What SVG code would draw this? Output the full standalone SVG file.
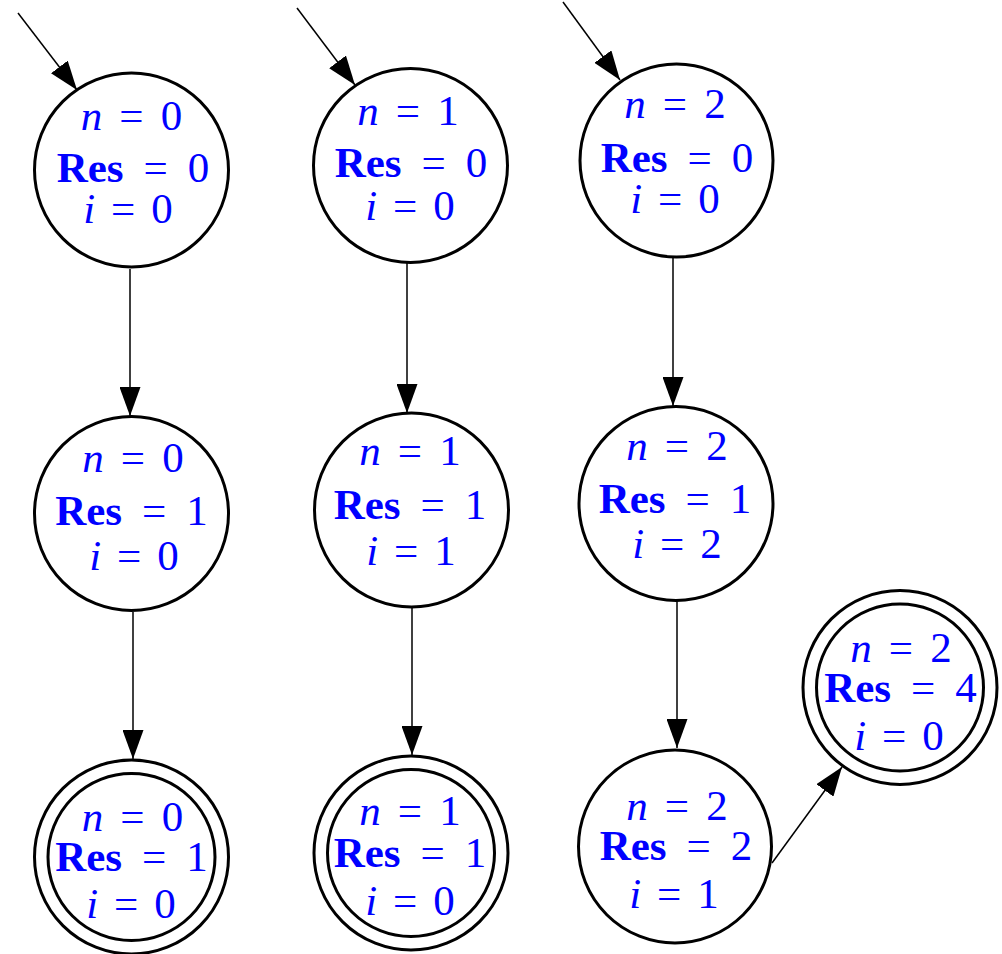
<svg xmlns="http://www.w3.org/2000/svg" width="1002" height="954" viewBox="0 0 1002 954">
<style>
.c{fill:none;stroke:#000;stroke-width:3}
.e{fill:none;stroke:#000;stroke-width:1.5}
text{font-family:"Liberation Serif","DejaVu Serif",serif;font-size:43px;fill:#0000ff;text-anchor:middle}
.v{font-style:italic}
.b{font-weight:bold}
</style>
<defs>
<marker id="ah" viewBox="0 0 29 21" refX="29" refY="10.5" markerWidth="29" markerHeight="21" markerUnits="userSpaceOnUse" orient="auto">
<path d="M0,0 L29,10.5 L0,21 z" fill="#000"/>
</marker>
</defs>
<rect width="1002" height="954" fill="#fff"/>
<g id="connectors">
<line class="e" x1="18" y1="13" x2="77" y2="90" marker-end="url(#ah)"/>
<line class="e" x1="297" y1="8" x2="355" y2="85" marker-end="url(#ah)"/>
<line class="e" x1="563" y1="2" x2="620" y2="80" marker-end="url(#ah)"/>
<line class="e" x1="130" y1="269" x2="130" y2="416" marker-end="url(#ah)"/>
<line class="e" x1="407" y1="263" x2="407" y2="413" marker-end="url(#ah)"/>
<line class="e" x1="673" y1="258" x2="673" y2="406" marker-end="url(#ah)"/>
<line class="e" x1="133" y1="612" x2="133" y2="759" marker-end="url(#ah)"/>
<line class="e" x1="412" y1="607" x2="412" y2="755" marker-end="url(#ah)"/>
<line class="e" x1="677" y1="601" x2="677" y2="748" marker-end="url(#ah)"/>
<line class="e" x1="772" y1="863" x2="842" y2="767" marker-end="url(#ah)"/>
</g>
<g id="n1">
<circle class="c" cx="131.5" cy="170" r="97"/>
<text x="131.5" y="130"><tspan class="v">n</tspan><tspan dx="17">=</tspan><tspan dx="17">0</tspan></text>
<text x="133" y="182"><tspan class="b">Res</tspan><tspan dx="20">=</tspan><tspan dx="20">0</tspan></text>
<text x="128" y="223"><tspan class="v">i</tspan><tspan dx="16">=</tspan><tspan dx="16">0</tspan></text>
</g>
<g id="n2">
<circle class="c" cx="131.5" cy="513.5" r="97"/>
<text x="133" y="472"><tspan class="v">n</tspan><tspan dx="17">=</tspan><tspan dx="17">0</tspan></text>
<text x="131.5" y="525"><tspan class="b">Res</tspan><tspan dx="20">=</tspan><tspan dx="20">1</tspan></text>
<text x="134" y="570"><tspan class="v">i</tspan><tspan dx="16">=</tspan><tspan dx="16">0</tspan></text>
</g>
<g id="n3">
<circle class="c" cx="131.5" cy="857" r="97"/>
<circle class="c" cx="131.5" cy="857" r="83.5"/>
<text x="132.5" y="831"><tspan class="v">n</tspan><tspan dx="17">=</tspan><tspan dx="17">0</tspan></text>
<text x="131.5" y="871"><tspan class="b">Res</tspan><tspan dx="20">=</tspan><tspan dx="20">1</tspan></text>
<text x="131" y="918"><tspan class="v">i</tspan><tspan dx="16">=</tspan><tspan dx="16">0</tspan></text>
</g>
<g id="n4">
<circle class="c" cx="410.5" cy="165.5" r="97"/>
<text x="408" y="125"><tspan class="v">n</tspan><tspan dx="17">=</tspan><tspan dx="17">1</tspan></text>
<text x="411" y="177"><tspan class="b">Res</tspan><tspan dx="20">=</tspan><tspan dx="20">0</tspan></text>
<text x="410" y="220"><tspan class="v">i</tspan><tspan dx="16">=</tspan><tspan dx="16">0</tspan></text>
</g>
<g id="n5">
<circle class="c" cx="411.5" cy="510" r="97"/>
<text x="410" y="465"><tspan class="v">n</tspan><tspan dx="17">=</tspan><tspan dx="17">1</tspan></text>
<text x="410" y="519"><tspan class="b">Res</tspan><tspan dx="20">=</tspan><tspan dx="20">1</tspan></text>
<text x="411" y="565"><tspan class="v">i</tspan><tspan dx="16">=</tspan><tspan dx="16">1</tspan></text>
</g>
<g id="n6">
<circle class="c" cx="411" cy="853" r="97"/>
<circle class="c" cx="411" cy="853" r="83.5"/>
<text x="410" y="825"><tspan class="v">n</tspan><tspan dx="17">=</tspan><tspan dx="17">1</tspan></text>
<text x="410" y="867"><tspan class="b">Res</tspan><tspan dx="20">=</tspan><tspan dx="20">1</tspan></text>
<text x="410" y="915"><tspan class="v">i</tspan><tspan dx="16">=</tspan><tspan dx="16">0</tspan></text>
</g>
<g id="n7">
<circle class="c" cx="676.5" cy="160.5" r="96.5"/>
<text x="675" y="118"><tspan class="v">n</tspan><tspan dx="17">=</tspan><tspan dx="17">2</tspan></text>
<text x="677" y="172"><tspan class="b">Res</tspan><tspan dx="20">=</tspan><tspan dx="20">0</tspan></text>
<text x="675" y="213"><tspan class="v">i</tspan><tspan dx="16">=</tspan><tspan dx="16">0</tspan></text>
</g>
<g id="n8">
<circle class="c" cx="676" cy="503.5" r="97"/>
<text x="677" y="460"><tspan class="v">n</tspan><tspan dx="17">=</tspan><tspan dx="17">2</tspan></text>
<text x="675" y="513"><tspan class="b">Res</tspan><tspan dx="20">=</tspan><tspan dx="20">1</tspan></text>
<text x="677" y="558"><tspan class="v">i</tspan><tspan dx="16">=</tspan><tspan dx="16">2</tspan></text>
</g>
<g id="n9">
<circle class="c" cx="675" cy="846.5" r="96.5"/>
<text x="677" y="820"><tspan class="v">n</tspan><tspan dx="17">=</tspan><tspan dx="17">2</tspan></text>
<text x="676" y="860"><tspan class="b">Res</tspan><tspan dx="20">=</tspan><tspan dx="20">2</tspan></text>
<text x="674" y="908"><tspan class="v">i</tspan><tspan dx="16">=</tspan><tspan dx="16">1</tspan></text>
</g>
<g id="n10">
<circle class="c" cx="900" cy="687.5" r="97"/>
<circle class="c" cx="900" cy="687.5" r="83.5"/>
<text x="901" y="662"><tspan class="v">n</tspan><tspan dx="17">=</tspan><tspan dx="17">2</tspan></text>
<text x="900.5" y="702"><tspan class="b">Res</tspan><tspan dx="20">=</tspan><tspan dx="20">4</tspan></text>
<text x="899" y="750"><tspan class="v">i</tspan><tspan dx="16">=</tspan><tspan dx="16">0</tspan></text>
</g>
</svg>
